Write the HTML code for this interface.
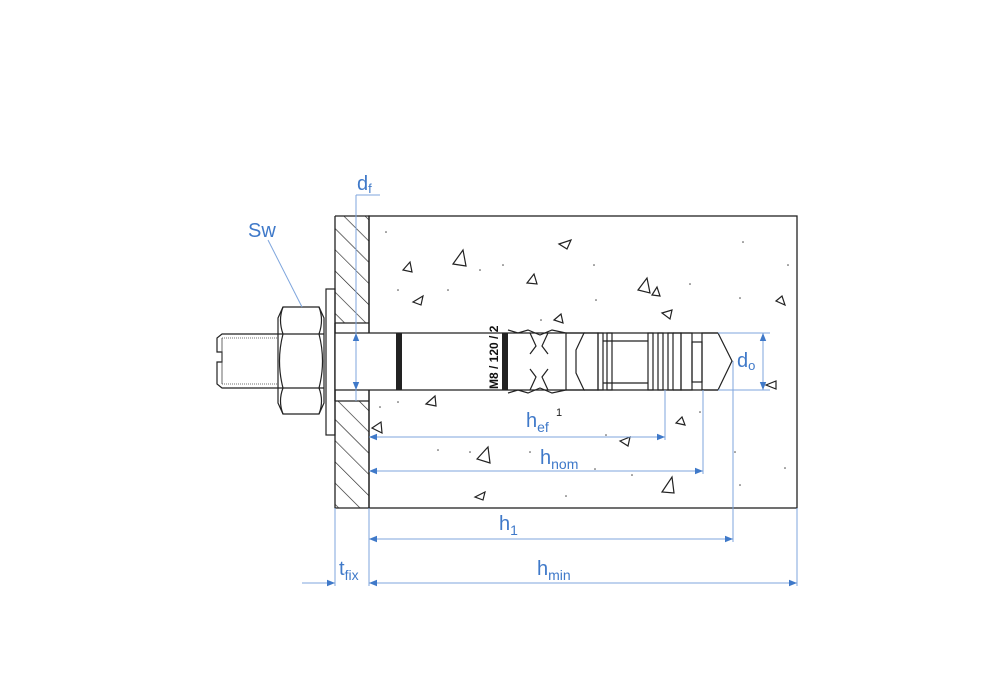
<!DOCTYPE html>
<html><head><meta charset="utf-8"><style>
html,body{margin:0;padding:0;background:#fff;width:1000px;height:700px;overflow:hidden}
svg{display:block}
.b{fill:none;stroke:#222;stroke-width:1.3}
.t{fill:none;stroke:#222;stroke-width:1.2}
.d{stroke:#7fa6dd;stroke-width:1;fill:none}
.lbl{font-family:"Liberation Sans",sans-serif;fill:#3f79c9}
</style></head><body>
<svg width="1000" height="700" viewBox="0 0 1000 700" xmlns="http://www.w3.org/2000/svg">
<defs>
<pattern id="hatch" patternUnits="userSpaceOnUse" width="15" height="15" patternTransform="rotate(-45)">
<line x1="0" y1="0" x2="0" y2="15" stroke="#222" stroke-width="1.3"/>
</pattern>
<marker id="ar" viewBox="0 0 10 10" refX="10" refY="5" markerWidth="18" markerHeight="8" markerUnits="userSpaceOnUse" orient="auto-start-reverse">
<path d="M0,1 L10,5 L0,9 z" fill="#3f79c9"/>
</marker>
</defs>

<rect x="369" y="216" width="428" height="292" class="b" fill="#fff"/>
<rect x="335" y="216" width="34" height="107" fill="url(#hatch)"/>
<rect x="335" y="401" width="34" height="107" fill="url(#hatch)"/>
<path d="M335,216 H369 V333 M369,390 V508 H335 V216" class="b"/>
<line x1="335" y1="323" x2="369" y2="323" class="t"/>
<line x1="335" y1="401" x2="369" y2="401" class="t"/>

<rect x="326" y="289" width="9" height="146" class="t" fill="#fff"/>
<path d="M283,307 H319 L324,318 V403 L319,414 H283 L278,403 V318 Z" class="t" fill="#fff"/>
<line x1="278" y1="334" x2="324" y2="334" class="t"/>
<line x1="278" y1="388" x2="324" y2="388" class="t"/>
<path d="M283,307 Q278,320 283,334 M283,334 Q276,361 283,388 M283,388 Q278,401 283,414" class="t"/>
<path d="M319,307 Q324,320 319,334 M319,334 Q326,361 319,388 M319,388 Q324,401 319,414" class="t"/>
<path d="M278,334 H222 L217,338 V352 H222 V362 H217 V384 L222,388 H278" class="t" fill="#fff"/>
<line x1="222" y1="338" x2="278" y2="338" stroke="#444" stroke-width="0.8" stroke-dasharray="1,1"/>
<line x1="222" y1="384" x2="278" y2="384" stroke="#444" stroke-width="0.8" stroke-dasharray="1,1"/>
<line x1="222" y1="338" x2="222" y2="384" stroke="#444" stroke-width="0.8"/>

<rect x="335" y="333" width="383" height="57" fill="#fff"/>
<line x1="335" y1="333" x2="718" y2="333" class="t"/>
<line x1="335" y1="390" x2="718" y2="390" class="t"/>
<line x1="335" y1="323" x2="335" y2="401" class="b"/>
<rect x="396" y="333" width="6" height="57" fill="#222"/>
<rect x="502" y="333" width="6" height="57" fill="#222"/>
<text x="0" y="0" transform="translate(498,389) rotate(-90)" font-family="Liberation Sans,sans-serif" font-weight="bold" font-size="12" fill="#111">M8 / 120 / 2</text>
<path d="M508,330 L518,333 L528,330 L540,335 L552,330 L566,333 V390 L552,393 L540,388 L528,393 L518,390 L508,393" class="t"/>
<path d="M530,333 L536,346 L530,354 M548,333 L542,346 L548,354 M530,390 L536,377 L530,369 M548,390 L542,377 L548,369" class="t"/>
<path d="M566,333 H584 L576,350 V373 L584,390 H566" class="t"/>
<path d="M584,333 H598 V390 H584" class="t"/>
<rect x="598" y="333" width="5" height="57" class="t"/>
<rect x="607" y="333" width="5" height="57" class="t"/>
<line x1="603" y1="341" x2="648" y2="341" class="t"/>
<line x1="603" y1="383" x2="648" y2="383" class="t"/>
<rect x="648" y="333" width="5" height="57" class="t"/>
<rect x="658" y="333" width="5" height="57" class="t"/>
<rect x="668" y="333" width="5" height="57" class="t"/>
<path d="M673,333 L681,333 V390 H673" class="t"/>
<rect x="681" y="333" width="11" height="57" class="t"/>
<rect x="692" y="342" width="10" height="40" class="t"/>
<path d="M702,333 L718,333 L732,361 L718,390 L702,390 Z" class="t" fill="#fff"/>

<g class="t" stroke-width="1.1">
<path d="M403,270 L410,262 L412,272 Z"/>
<path d="M453,264 L463,250 L466,266 Z"/>
<path d="M413,302 L423,296 L421,305 Z"/>
<path d="M527,283 L534,274 L537,284 Z"/>
<path d="M559,244 L571,240 L567,249 Z"/>
<path d="M638,290 L647,278 L650,293 Z"/>
<path d="M652,295 L657,287 L660,296 Z"/>
<path d="M662,313 L672,310 L670,319 Z"/>
<path d="M776,301 L782,296 L785,305 Z"/>
<path d="M426,404 L435,396 L436,406 Z"/>
<path d="M372,428 L381,422 L382,433 Z"/>
<path d="M477,459 L488,447 L490,463 Z"/>
<path d="M620,441 L630,437 L628,446 Z"/>
<path d="M676,423 L682,417 L685,425 Z"/>
<path d="M662,492 L672,477 L674,493 Z"/>
<path d="M475,497 L485,492 L483,500 Z"/>
<path d="M766,385 L776,381 L776,389 Z"/>
<path d="M554,320 L561,314 L563,323 Z"/>
</g>
<g fill="#444">
<circle cx="386" cy="232" r="0.8"/><circle cx="480" cy="270" r="0.8"/><circle cx="503" cy="265" r="0.8"/><circle cx="594" cy="265" r="0.8"/><circle cx="596" cy="300" r="0.8"/><circle cx="743" cy="242" r="0.8"/><circle cx="788" cy="265" r="0.8"/><circle cx="690" cy="284" r="0.8"/><circle cx="740" cy="298" r="0.8"/><circle cx="398" cy="290" r="0.8"/><circle cx="448" cy="290" r="0.8"/><circle cx="541" cy="320" r="0.8"/><circle cx="380" cy="407" r="0.8"/><circle cx="398" cy="402" r="0.8"/><circle cx="438" cy="450" r="0.8"/><circle cx="470" cy="452" r="0.8"/><circle cx="530" cy="452" r="0.8"/><circle cx="595" cy="469" r="0.8"/><circle cx="606" cy="435" r="0.8"/><circle cx="735" cy="452" r="0.8"/><circle cx="785" cy="468" r="0.8"/><circle cx="740" cy="485" r="0.8"/><circle cx="632" cy="475" r="0.8"/><circle cx="566" cy="496" r="0.8"/><circle cx="700" cy="412" r="0.8"/>
</g>

<line x1="268" y1="240" x2="302" y2="307" class="d"/>
<text x="248" y="237" class="lbl" font-size="20">Sw</text>
<path d="M356,195 H380" class="d"/>
<line x1="356" y1="195" x2="356" y2="401" class="d"/>
<line x1="356" y1="350" x2="356" y2="333" class="d" marker-end="url(#ar)"/>
<line x1="356" y1="373" x2="356" y2="390" class="d" marker-end="url(#ar)"/>
<text x="357" y="190" class="lbl" font-size="20">d<tspan font-size="13" dy="3">f</tspan></text>
<line x1="718" y1="333" x2="770" y2="333" class="d"/>
<line x1="718" y1="390" x2="770" y2="390" class="d"/>
<line x1="763" y1="350" x2="763" y2="373" class="d"/>
<line x1="763" y1="350" x2="763" y2="333" class="d" marker-end="url(#ar)"/>
<line x1="763" y1="373" x2="763" y2="390" class="d" marker-end="url(#ar)"/>
<text x="737" y="367" class="lbl" font-size="20">d<tspan font-size="13" dy="3">o</tspan></text>
<line x1="665" y1="390" x2="665" y2="440" class="d"/>
<line x1="369" y1="437" x2="665" y2="437" class="d" marker-start="url(#ar)" marker-end="url(#ar)"/>
<text x="526" y="427" class="lbl" font-size="20">h<tspan font-size="14" dy="5">ef</tspan></text>
<text x="556" y="416" font-family="Liberation Sans,sans-serif" font-size="11" fill="#222">1</text>
<line x1="703" y1="390" x2="703" y2="474" class="d"/>
<line x1="369" y1="471" x2="703" y2="471" class="d" marker-start="url(#ar)" marker-end="url(#ar)"/>
<text x="540" y="464" class="lbl" font-size="20">h<tspan font-size="14" dy="5">nom</tspan></text>
<line x1="733" y1="361" x2="733" y2="542" class="d"/>
<line x1="369" y1="539" x2="733" y2="539" class="d" marker-start="url(#ar)" marker-end="url(#ar)"/>
<text x="499" y="530" class="lbl" font-size="20">h<tspan font-size="14" dy="5">1</tspan></text>
<line x1="335" y1="508" x2="335" y2="586" class="d"/>
<line x1="369" y1="508" x2="369" y2="586" class="d"/>
<line x1="797" y1="508" x2="797" y2="586" class="d"/>
<line x1="369" y1="583" x2="797" y2="583" class="d" marker-start="url(#ar)" marker-end="url(#ar)"/>
<line x1="302" y1="583" x2="335" y2="583" class="d" marker-end="url(#ar)"/>
<text x="537" y="575" class="lbl" font-size="20">h<tspan font-size="14" dy="5">min</tspan></text>
<text x="339" y="575" class="lbl" font-size="20">t<tspan font-size="14" dy="5">fix</tspan></text>
</svg>
</body></html>
